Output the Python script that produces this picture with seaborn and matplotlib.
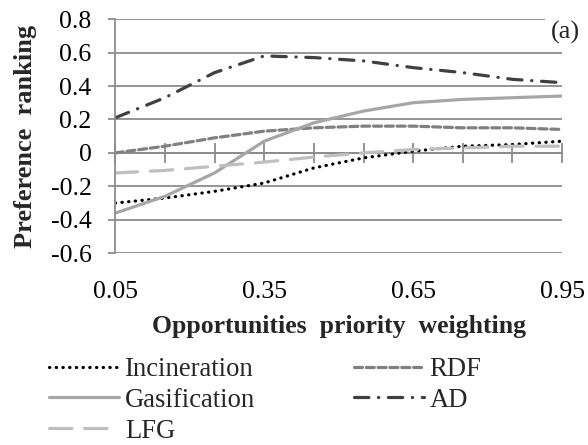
import numpy as np
import pandas as pd
import matplotlib
matplotlib.use("Agg")
import matplotlib.pyplot as plt
import seaborn as sns
from matplotlib.lines import Line2D

weights = [0.05, 0.15, 0.25, 0.35, 0.45, 0.55, 0.65, 0.75, 0.85, 0.95]
incineration = [-0.30, -0.27, -0.23, -0.18, -0.09, -0.03, 0.01, 0.04, 0.05, 0.07]
rdf = [0.00, 0.04, 0.09, 0.13, 0.15, 0.16, 0.16, 0.15, 0.15, 0.14]
gasification = [-0.36, -0.26, -0.12, 0.07, 0.18, 0.25, 0.30, 0.32, 0.33, 0.34]
ad = [0.21, 0.33, 0.48, 0.58, 0.57, 0.55, 0.51, 0.48, 0.44, 0.42]
lfg = [-0.12, -0.105, -0.08, -0.055, -0.025, 0.00, 0.02, 0.03, 0.04, 0.04]
names = ["Incineration", "RDF", "Gasification", "AD", "LFG"]
xticks = [0.05, 0.35, 0.65, 0.95]
xtick_labels = ["0.05", "0.35", "0.65", "0.95"]
yticks = [-0.6, -0.4, -0.2, 0, 0.2, 0.4, 0.6, 0.8]
ytick_labels = ["-0.6", "-0.4", "-0.2", "0", "0.2", "0.4", "0.6", "0.8"]

series = dict(zip(names, [incineration, rdf, gasification, ad, lfg]))
df = pd.concat([pd.DataFrame({"w": weights, "v": vals, "tech": n}) for n, vals in series.items()])

sns.set_theme(style="white")
plt.rcParams["font.family"] = ["Liberation Serif", "DejaVu Serif"]

colors = {"Incineration": "#000000", "RDF": "#808080", "Gasification": "#a6a6a6",
          "AD": "#404040", "LFG": "#bfbfbf"}
dashes = {"Incineration": (0.1, 2.0), "RDF": (2.5, 1.2), "Gasification": "",
          "AD": (4.5, 3.0, 0.1, 3.0), "LFG": (7, 4)}

fig = plt.figure(figsize=(5.88, 4.45), dpi=100)
ax = fig.add_axes([0.196, 0.431, 0.760, 0.526])

sns.lineplot(data=df, x="w", y="v", hue="tech", style="tech", palette=colors,
             dashes=dashes, linewidth=2.3, ax=ax, legend=False)
for ln in ax.get_lines():
    ln.set_dash_capstyle("round")

ax.set_xlim(0.05, 0.95)
ax.set_ylim(-0.6, 0.8)
ax.set_yticks(yticks)
ax.set_yticklabels(ytick_labels)
ax.set_xticks(xticks)
ax.set_xticklabels(xtick_labels)
ax.grid(axis="y", color="#8c8c8c", linewidth=1.3)
ax.set_axisbelow(True)
for s in ["top", "right", "bottom"]:
    ax.spines[s].set_visible(False)
ax.spines["left"].set_color("#8c8c8c")
ax.spines["left"].set_linewidth(1.3)
ax.tick_params(axis="y", length=5, width=1.3, color="#8c8c8c", labelsize=18.5, left=True, pad=12)
ax.tick_params(axis="x", length=0, labelsize=18.5, pad=20)
for lab in ax.get_xticklabels() + ax.get_yticklabels():
    lab.set_color("#000000")

# category axis at y=0 with crossing ticks
sec = ax.secondary_xaxis(0.6 / 1.4)
sec.set_xticks(weights)
sec.set_xticklabels([])
sec.tick_params(direction="inout", length=14, width=1.3, color="#8c8c8c")
sec.spines["bottom"].set_color("#8c8c8c")
sec.spines["bottom"].set_linewidth(1.3)

ax.set_xlabel("Opportunities  priority  weighting", fontsize=18.5, fontweight="bold")
ax.xaxis.set_label_coords(0.5, -0.265)
ax.set_ylabel("Preference  ranking", fontsize=19, fontweight="bold")
ax.yaxis.set_label_coords(-0.175, 0.5)

ax.text(1.04, 0.943, "(a)", transform=ax.transAxes, ha="right", va="center", fontsize=19,
        bbox=dict(facecolor="white", edgecolor="none", pad=4))

order = ["Incineration", "Gasification", "LFG", "RDF", "AD"]
handles = [Line2D([], [], color=colors[n], linewidth=2.3, dash_capstyle="round",
                  linestyle=(0, dashes[n]) if dashes[n] else "-") for n in order]
fig.legend(handles, order, ncol=2, loc="upper left", bbox_to_anchor=(0.083, 0.198),
           frameon=False, fontsize=19.2, handlelength=2.65, handletextpad=0.2,
           columnspacing=3.7, labelspacing=0.22, borderpad=0, borderaxespad=0)

fig.savefig("out.png", dpi=100)
